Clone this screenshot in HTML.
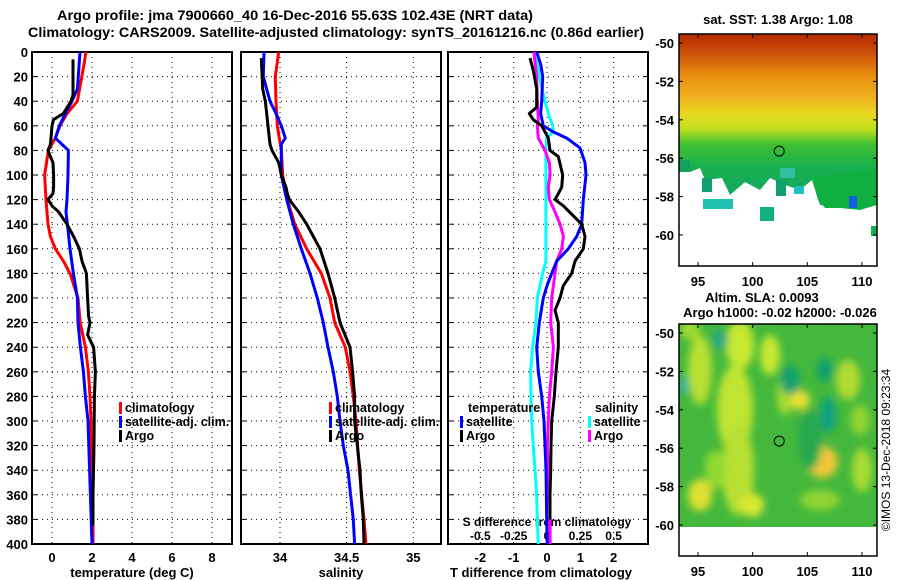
<!DOCTYPE html>
<html><head><meta charset="utf-8"><style>
body{margin:0;background:#fff;}
svg{display:block;font-family:"Liberation Sans",sans-serif;font-weight:bold;}
</style></head><body>
<svg id="c" width="900" height="580" viewBox="0 0 900 580" xmlns="http://www.w3.org/2000/svg">
<defs>
<clipPath id="cp1"><rect x="32" y="52" width="200" height="492"/></clipPath>
<clipPath id="cp2"><rect x="241" y="52" width="200" height="492"/></clipPath>
<clipPath id="cp3"><rect x="448" y="52" width="200" height="492"/></clipPath>
<linearGradient id="sstg" x1="0" y1="0" x2="0" y2="1">
<stop offset="0" stop-color="#b52a00"/><stop offset="0.1" stop-color="#cc5008"/><stop offset="0.22" stop-color="#e89010"/><stop offset="0.33" stop-color="#f0b020"/><stop offset="0.42" stop-color="#e8d820"/><stop offset="0.5" stop-color="#c0e020"/><stop offset="0.58" stop-color="#40c030"/><stop offset="0.7" stop-color="#18b050"/><stop offset="1" stop-color="#10a070"/>
</linearGradient>
<filter id="blur"><feGaussianBlur stdDeviation="4"/></filter>
<clipPath id="cpm2"><rect x="679" y="324" width="198" height="203"/></clipPath>
</defs>
<text x="295" y="20" text-anchor="middle" font-size="14" textLength="476" lengthAdjust="spacingAndGlyphs">Argo profile: jma 7900660_40 16-Dec-2016 55.63S 102.43E (NRT data)</text>
<text x="28" y="37" font-size="14" textLength="616" lengthAdjust="spacingAndGlyphs">Climatology: CARS2009. Satellite-adjusted climatology: synTS_20161216.nc (0.86d earlier)</text>
<g id="axes"></g>
<g id="series"></g>
<g id="maps"></g>
</svg>
<script>
// ---- data ----
const tClimDepth=[0,10,40,50,60,70,80,100,120,140,150,160,170,180,200,220,240,260,280,300,340,380,400];
const tClim=[1.7,1.6,1.27,0.75,0.4,0.17,-0.18,-0.37,-0.3,-0.2,-0.08,0.17,0.57,0.9,1.3,1.41,1.67,1.82,1.9,1.95,1.97,2.05,2.05];
const tSatDepth=[0,30,40,50,60,70,80,100,120,130,140,160,180,200,220,240,260,280,300,340,400];
const tSat=[1.4,1.27,1.0,0.67,0.37,0.17,0.82,0.8,0.75,0.7,0.77,0.9,1.07,1.27,1.3,1.42,1.57,1.67,1.8,1.88,2.0];
const tArgoDepth=[6,35,40,50,55,60,70,75,80,85,90,100,110,115,120,125,130,140,150,160,170,180,200,215,220,230,240,260,280,320,360,385];
const tArgo=[1.05,1.05,0.95,0.57,0.07,0,-0.05,-0.08,-0.2,-0.08,0.05,0.08,0.08,0.05,-0.2,0,0.33,0.75,1.08,1.37,1.5,1.72,1.78,1.83,1.9,1.78,2.08,2.17,2.12,2.1,2.05,2.05];
const sClimDepth=[0,20,40,60,80,100,120,140,160,180,200,220,240,260,280,300,340,380,400];
const sClim=[33.99,33.965,33.97,33.98,34.01,34.02,34.055,34.11,34.2,34.31,34.375,34.41,34.49,34.525,34.55,34.57,34.595,34.63,34.645];
const sSatDepth=[0,20,40,50,60,70,75,80,100,120,140,160,180,200,220,240,260,280,300,320,340,360,380,400];
const sSat=[33.88,33.875,33.925,33.97,34.01,34.04,34.01,34.01,34.01,34.05,34.1,34.16,34.225,34.28,34.325,34.36,34.4,34.43,34.45,34.475,34.51,34.53,34.55,34.56];
const sArgoDepth=[5,30,40,50,60,75,80,90,100,110,115,120,130,140,150,160,180,200,220,240,260,280,300,320,340,360,380,400];
const sArgo=[33.86,33.87,33.89,33.9,33.91,33.925,33.94,33.99,34.01,34.045,34.055,34.07,34.14,34.2,34.25,34.3,34.36,34.41,34.45,34.525,34.545,34.56,34.56,34.58,34.6,34.61,34.625,34.63];
const dtSatDepth=[0,10,20,40,50,60,65,70,78,90,100,120,140,150,160,170,180,190,200,220,240,260,280,300,320,340,380,400];
const dtSat=[-0.31,-0.19,-0.13,-0.16,-0.19,-0.11,0.19,0.59,0.99,1.14,1.17,1.09,1.04,0.89,0.64,0.29,0.14,0,-0.11,-0.23,-0.31,-0.26,-0.16,-0.09,-0.06,-0.03,-0.01,0.01];
const dtArgoDepth=[5,15,30,45,50,55,60,70,80,85,100,110,120,125,140,150,160,170,180,190,200,210,220,240,260,280,300,320,340,360,380];
const dtArgo=[-0.51,-0.41,-0.31,-0.31,-0.53,-0.41,-0.16,0.04,0.09,0.34,0.47,0.44,0.24,0.49,1.04,1.14,1.09,0.84,0.74,0.49,0.39,0.24,0.34,0.34,0.27,0.22,0.14,0.12,0.11,0.09,0.09];
const dsSatDepth=[0,20,40,50,60,65,70,80,170,180,200,220,240,260,280,300,320,340,360,380,400];
const dsSat=[-0.078,-0.058,-0.015,0.01,0.043,0.048,-0.003,-0.008,-0.008,-0.033,-0.073,-0.083,-0.108,-0.123,-0.12,-0.115,-0.103,-0.09,-0.078,-0.073,-0.065];
const dsArgoDepth=[0,20,40,55,60,70,75,80,90,100,110,120,130,140,150,160,170,180,190,200,220,240,260,280,300,320,340,360,380,400];
const dsArgo=[-0.098,-0.078,-0.073,-0.065,-0.073,-0.065,-0.04,-0.015,0.018,0.023,0.01,0.018,0.06,0.098,0.123,0.11,0.073,0.06,0.048,0.035,0.028,0.048,0.035,0.018,0.01,0.003,0.01,0.018,0.023,0.023];
const depthTicks=[0,20,40,60,80,100,120,140,160,180,200,220,240,260,280,300,320,340,360,380,400];
const tTicks=[0,2,4,6,8];
const sTicks=[34,34.5,35];
const dtTicks=[-2,-1,0,1,2];
const dsTickLabels=["-0.5","-0.25","0","0.25","0.5"];
const lonTicks=[95,100,105,110];
const latTicks=[-50,-52,-54,-56,-58,-60];
const argoLon=102.43, argoLat=-55.63;

// ---- scales ----
const yD=d=>52+d*1.23;
const x1=t=>32+(t+1)*20;
const x2=s=>280+(s-34)*133.3;
const x3=d=>547+d*33.33;
const x3s=s=>547+s*133.3;
const mx=lon=>698+(lon-95)*10.93;
const my=(lat,off)=>43+off+(-50-lat)*19.2;

const NS='http://www.w3.org/2000/svg';
const axes=document.getElementById('axes'), series=document.getElementById('series'), maps=document.getElementById('maps');
function mk(tag,attrs,parent,txt){const e=document.createElementNS(NS,tag);for(const k in attrs)e.setAttribute(k,attrs[k]);if(txt!==undefined)e.textContent=txt;parent.appendChild(e);return e;}

const panels=[{x:32,xs:x1,ticks:tTicks,lab:t=>String(t),title:'temperature (deg C)',name:'temperature'},
{x:241,xs:x2,ticks:sTicks,lab:s=>String(s),title:'salinity',name:'salinity'},
{x:448,xs:x3,ticks:dtTicks,lab:t=>String(t),title:'T difference from climatology',name:'difference'}];
panels.forEach((p,i)=>{
  const g=mk('g',{},axes);
  
  
  depthTicks.forEach(d=>{
    if(d>0&&d<400){const l=mk('line',{x1:p.x,x2:p.x+200,y1:yD(d),y2:yD(d),stroke:'#000','stroke-width':1,'stroke-dasharray':'1,4'},g);
      
      }
    mk('line',{x1:p.x,x2:p.x+5,y1:yD(d),y2:yD(d),stroke:'#000','stroke-width':1},g);
    mk('line',{x1:p.x+195,x2:p.x+200,y1:yD(d),y2:yD(d),stroke:'#000','stroke-width':1},g);
  });
  p.ticks.forEach(t=>{
    const xx=p.xs(t);
    const l=mk('line',{x1:xx,x2:xx,y1:52,y2:544,stroke:'#000','stroke-width':1,'stroke-dasharray':'1,4'},g);
    
    
    const tl=mk('text',{x:xx,y:562,'text-anchor':'middle','font-size':13},g,p.lab(t));
    
    
  });
  const r=mk('rect',{x:p.x,y:52,width:200,height:492,fill:'none',stroke:'#000','stroke-width':2},g);
  
  
  const at=mk('text',{x:p.x+(i==2?93:100),y:577,'text-anchor':'middle','font-size':13},g,p.title);
  
  
});
depthTicks.forEach(d=>{
  const t=mk('text',{x:28,y:yD(d)+5,'text-anchor':'end','font-size':13},axes,String(d));
  
  
});
dsTickLabels.forEach((s,i)=>{
  const t=mk('text',{x:x3s(parseFloat(s)),y:540,'text-anchor':'middle','font-size':12},axes,s);
  
  
});
{const t=mk('text',{x:547,y:526,'text-anchor':'middle','font-size':12},axes,'S difference from climatology');

}

function line(depths,vals,xs,color,clip,name){
  const pts=depths.map((d,i)=>xs(vals[i]).toFixed(1)+','+yD(d).toFixed(1)).join(' ');
  const pl=mk('polyline',{points:pts,fill:'none',stroke:color,'stroke-width':3,'stroke-linejoin':'round','clip-path':'url(#'+clip+')'},series);
  
  
}
line(tClimDepth,tClim,x1,'#ff0000','cp1','temp-climatology-line');
line(tSatDepth,tSat,x1,'#0000ff','cp1','temp-satellite-line');
line(tArgoDepth,tArgo,x1,'#000','cp1','temp-argo-line');
line(sClimDepth,sClim,x2,'#ff0000','cp2','sal-climatology-line');
line(sSatDepth,sSat,x2,'#0000ff','cp2','sal-satellite-line');
line(sArgoDepth,sArgo,x2,'#000','cp2','sal-argo-line');
line(dsSatDepth,dsSat,x3s,'#00ffff','cp3','sdiff-satellite-line');
line(dsArgoDepth,dsArgo,x3s,'#ff00ff','cp3','sdiff-argo-line');
line(dtSatDepth,dtSat,x3,'#0000ff','cp3','tdiff-satellite-line');
line(dtArgoDepth,dtArgo,x3,'#000','cp3','tdiff-argo-line');

function legend(x,y,color,label,name){
  const g=mk('g',{},series);
  
  
  mk('rect',{x:x,y:y-10,width:3,height:12,fill:color},g);
  mk('text',{x:x+6,y:y,'font-size':12.5},g,label);
}
legend(119,412,'#ff0000','climatology','legend-climatology');
legend(119,426,'#0000ff','satellite-adj. clim.','legend-satellite-adj');
legend(119,440,'#000','Argo','legend-argo');
legend(329,412,'#ff0000','climatology','legend-climatology-sal');
legend(329,426,'#0000ff','satellite-adj. clim.','legend-satellite-adj-sal');
legend(329,440,'#000','Argo','legend-argo-sal');
{const t=mk('text',{x:468,y:412,'font-size':12.5},series,'temperature');}
{const t=mk('text',{x:595,y:412,'font-size':12.5},series,'salinity');}
legend(460,426,'#0000ff','satellite','legend-t-satellite');
legend(460,440,'#000','Argo','legend-t-argo');
legend(588,426,'#00ffff','satellite','legend-s-satellite');
legend(588,440,'#ff00ff','Argo','legend-s-argo');

// ---- maps ----
function mapAxes(off,name){
  const g=mk('g',{},maps);
  
  
  mk('rect',{x:679,y:34+off,width:198,height:232,fill:'none',stroke:'#000','stroke-width':1.5},g);
  lonTicks.forEach(l=>{
    mk('line',{x1:mx(l),x2:mx(l),y1:266+off,y2:262+off,stroke:'#000'},g);
    mk('line',{x1:mx(l),x2:mx(l),y1:34+off,y2:38+off,stroke:'#000'},g);
    const t=mk('text',{x:mx(l),y:286+off,'text-anchor':'middle','font-size':13},g,String(l));
    
    
  });
  latTicks.forEach(l=>{
    mk('line',{x1:679,x2:683,y1:my(l,off),y2:my(l,off),stroke:'#000'},g);
    mk('line',{x1:873,x2:877,y1:my(l,off),y2:my(l,off),stroke:'#000'},g);
    const t=mk('text',{x:674,y:my(l,off)+5,'text-anchor':'end','font-size':13},g,String(l));
    
    
  });
  const c=mk('circle',{cx:mx(argoLon),cy:my(argoLat,off),r:5,fill:'none',stroke:'#000','stroke-width':1},g);
  
  
}
// SST map image
{const g=mk('g',{},maps);


mk('rect',{x:679,y:34,width:198,height:190,fill:'url(#sstg)'},g);
mk('rect',{x:679,y:205,width:198,height:61,fill:'#fff'},g);
mk('polygon',{points:'679,165 690,172 700,168 705,180 722,178 730,195 745,182 760,190 770,178 785,185 800,190 812,180 820,205 679,205',fill:'#fff'},g);
mk('polygon',{points:'679,160 690,160 690,172 679,172',fill:'#10a060'},g);
mk('polygon',{points:'812,178 877,168 877,205 860,210 840,208 825,208 818,200',fill:'#10b040'},g);
mk('rect',{x:703,y:199,width:30,height:10,fill:'#20c0b0'},g);
mk('rect',{x:760,y:207,width:14,height:14,fill:'#10b080'},g);
mk('rect',{x:849,y:196,width:8,height:12,fill:'#1060e0'},g);
mk('rect',{x:871,y:226,width:6,height:10,fill:'#10b050'},g);
mk('rect',{x:702,y:178,width:10,height:14,fill:'#10a070'},g);
mk('rect',{x:776,y:180,width:10,height:16,fill:'#10a070'},g);
mk('rect',{x:794,y:186,width:10,height:8,fill:'#20c0c0'},g);
mk('rect',{x:780,y:168,width:15,height:10,fill:'#30c0a0'},g);}
mapAxes(0,'sst-map');
{const t=mk('text',{x:778,y:24,'text-anchor':'middle','font-size':13},maps,'sat. SST: 1.38 Argo: 1.08');}
// SLA map image
{const g=mk('g',{'clip-path':'url(#cpm2)'},maps);


mk('rect',{x:679,y:324,width:198,height:203,fill:'#44b83c'},g);
const b=mk('g',{filter:'url(#blur)'},g);
[[700,370,12,35,'#b8e030'],[740,345,14,25,'#c8e830'],[735,410,18,45,'#c0e430'],[738,470,16,45,'#b8e030'],[715,470,10,20,'#90d830'],[770,355,10,20,'#c8e830'],[785,395,8,20,'#a8dc30'],[800,400,10,10,'#e8e030'],[822,462,16,16,'#f0c838'],[848,380,12,20,'#b0dc30'],[700,495,12,16,'#e0e030'],[752,505,12,12,'#d8e830'],[862,470,10,22,'#a8dc30'],[690,330,10,10,'#a0d830'],[820,500,20,10,'#90d430'],[860,420,10,15,'#90d430']].forEach(e=>mk('ellipse',{cx:e[0],cy:e[1],rx:e[2],ry:e[3],fill:e[4]},b));
[[720,340,8,10,'#20a880'],[790,380,10,15,'#18a070'],[825,370,8,12,'#10a070'],[684,385,4,10,'#20b0b0'],[828,415,8,18,'#10a080'],[810,440,12,30,'#28a850']].forEach(e=>mk('ellipse',{cx:e[0],cy:e[1],rx:e[2],ry:e[3],fill:e[4]},b));
mk('rect',{x:679,y:527,width:198,height:30,fill:'#fff'},g);}
mapAxes(290,'sla-map');
{const t=mk('text',{x:762,y:302,'text-anchor':'middle','font-size':13},maps,'Altim. SLA: 0.0093');}
{const t=mk('text',{x:780,y:317,'text-anchor':'middle','font-size':13},maps,'Argo h1000: -0.02 h2000: -0.026');}
{const t=mk('text',{x:0,y:0,'text-anchor':'middle','font-size':12,'font-weight':'normal',transform:'translate(890,450) rotate(-90)'},maps,'©IMOS 13-Dec-2018 09:23:34');}
</script>
</body></html>
